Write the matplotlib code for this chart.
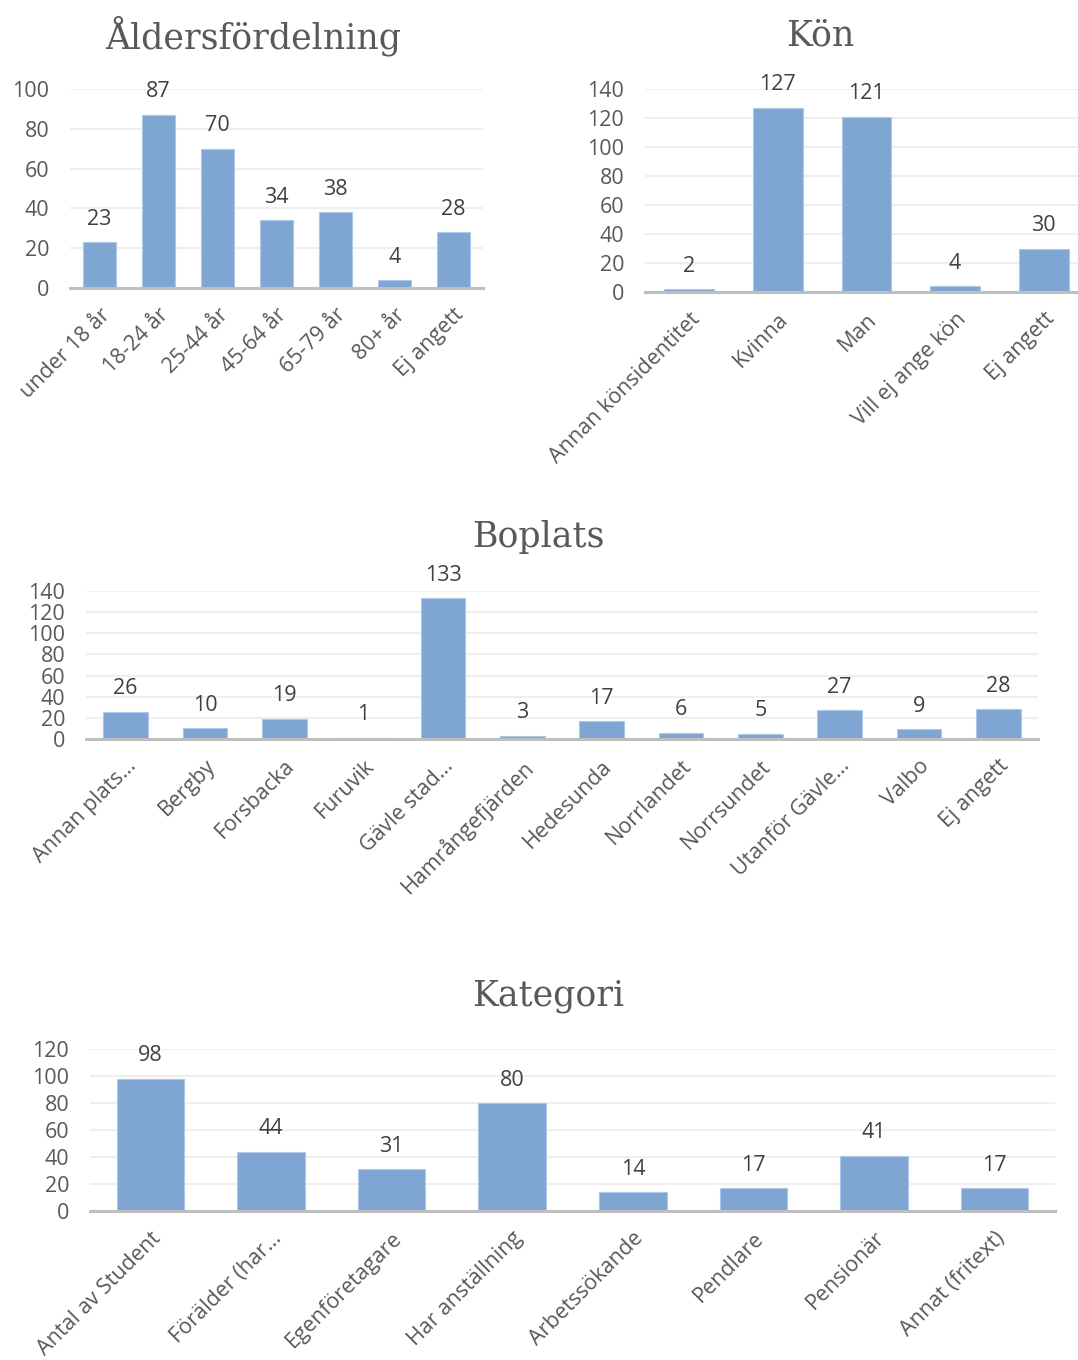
import matplotlib
matplotlib.use('Agg')
import matplotlib.pyplot as plt

# data
alder_cat = ['under 18 år', '18-24 år', '25-44 år', '45-64 år', '65-79 år', '80+ år', 'Ej angett']
alder_val = [23, 87, 70, 34, 38, 4, 28]

kon_cat = ['Annan könsidentitet', 'Kvinna', 'Man', 'Vill ej ange kön', 'Ej angett']
kon_val = [2, 127, 121, 4, 30]

boplats_cat = ['Annan plats…', 'Bergby', 'Forsbacka', 'Furuvik', 'Gävle stad…', 'Hamrångefjärden',
               'Hedesunda', 'Norrlandet', 'Norrsundet', 'Utanför Gävle…', 'Valbo', 'Ej angett']
boplats_val = [26, 10, 19, 1, 133, 3, 17, 6, 5, 27, 9, 28]

kategori_cat = ['Antal av Student', 'Förälder (har…', 'Egenföretagare', 'Har anställning',
                'Arbetssökande', 'Pendlare', 'Pensionär', 'Annat (fritext)']
kategori_val = [98, 44, 31, 80, 14, 17, 41, 17]

W, H = 1078, 1360
BAR = '#7FA6D2'
GRID = '#EFEFEF'
AX = '#BFBFBF'
TXT = '#595959'
LBL = '#404040'
SANS = 'Open Sans'
SERIF = 'DejaVu Serif'
FS = 15.5

fig = plt.figure(figsize=(W / 100, H / 100), dpi=100)


def chart(left, right, top, bottom, cats, vals, ymax, step, title, tx, ty):
    ax = fig.add_axes([left / W, 1 - bottom / H, (right - left) / W, (bottom - top) / H])
    x = list(range(len(cats)))
    ax.bar(x, vals, width=0.56, color=BAR, edgecolor='#AFC8E6', linewidth=0.8, zorder=2)
    ax.set_xlim(-0.5, len(cats) - 0.5)
    ax.set_ylim(0, ymax)
    ax.set_yticks(range(0, ymax + 1, step))
    ax.grid(axis='y', color=GRID, linewidth=1.5, zorder=0)
    for s in ['top', 'right', 'left']:
        ax.spines[s].set_visible(False)
    ax.spines['bottom'].set_color(AX)
    ax.spines['bottom'].set_linewidth(2.2)
    ax.spines['bottom'].set_zorder(3)
    ax.tick_params(axis='both', length=0, labelsize=FS, colors=TXT)
    ax.tick_params(axis='y', pad=15)
    ax.tick_params(axis='x', pad=12)
    ax.set_xticks(x)
    ax.set_xticklabels(cats, rotation=45, ha='right', rotation_mode='anchor', fontfamily=SANS)
    for lab in ax.get_yticklabels():
        lab.set_fontfamily(SANS)
    for xi, v in zip(x, vals):
        ax.annotate(str(v), (xi, v), xytext=(0, 9), textcoords='offset points',
                    ha='center', va='bottom', fontsize=FS, color=LBL, fontfamily=SANS)
    fig.text(tx / W, 1 - ty / H, title, ha='center', va='center', fontsize=25,
             color=TXT, fontfamily=SERIF)
    return ax


chart(70, 483, 89, 288, alder_cat, alder_val, 100, 20, 'Åldersfördelning', 253, 36)
chart(645, 1088, 89, 292, kon_cat, kon_val, 140, 20, 'Kön', 820, 36)
chart(86, 1038, 591, 739, boplats_cat, boplats_val, 140, 20, 'Boplats', 538, 537)
chart(90, 1055, 1049, 1211, kategori_cat, kategori_val, 120, 20, 'Kategori', 548, 996)

fig.savefig('out.png', dpi=100)
